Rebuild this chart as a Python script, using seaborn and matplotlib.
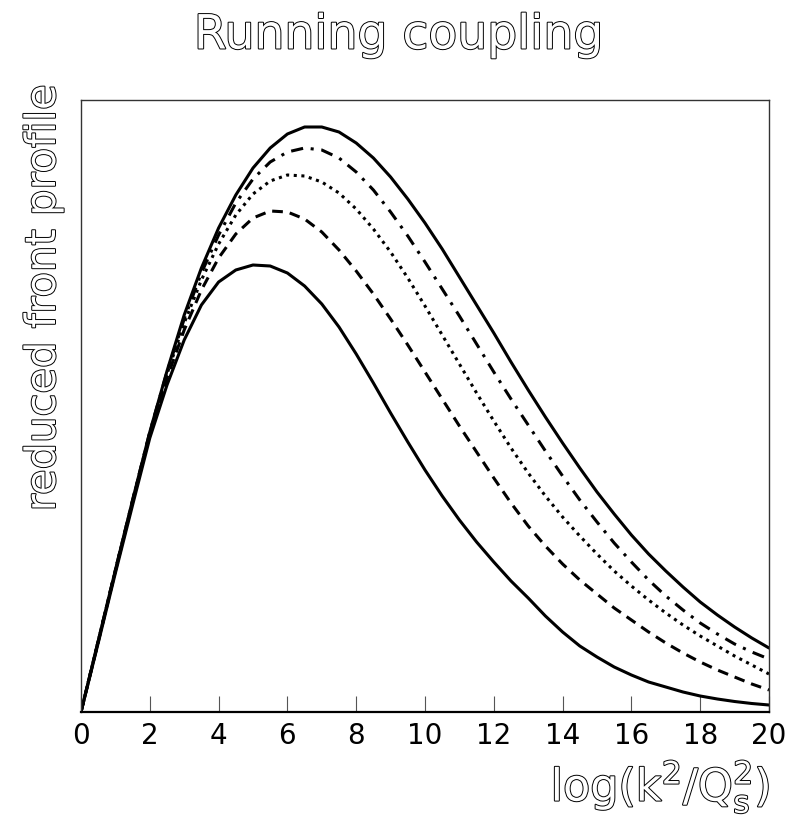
import numpy as np
import pandas as pd
import matplotlib
matplotlib.use("Agg")
import matplotlib.pyplot as plt
import matplotlib.patheffects as pe
import seaborn as sns

# log(k^2/Q_s^2) sample points
log_k = [0.0, 0.5, 1.0, 1.5, 2.0, 2.5, 3.0, 3.5, 4.0, 4.5, 5.0, 5.5, 6.0, 6.5, 7.0,
         7.5, 8.0, 8.5, 9.0, 9.5, 10.0, 10.5, 11.0, 11.5, 12.0, 12.5, 13.0, 13.5,
         14.0, 14.5, 15.0, 15.5, 16.0, 16.5, 17.0, 17.5, 18.0, 18.5, 19.0, 19.5, 20.0]

# reduced front profiles (arbitrary units), one list per curve
profile_upper = [0, 71, 142, 212, 280, 341, 397, 444, 484, 517, 544, 564, 578, 585, 585,
                 580, 569, 554, 535, 513, 489, 463, 435, 407, 379, 350, 322, 295,
                 269, 244, 220, 198, 177, 158, 141, 125, 110, 97, 85, 74, 64]
profile_dashdot = [0, 71, 142, 212, 280, 340, 393, 439, 477, 509, 533, 550, 560, 564, 562,
                   554, 540, 522, 500, 476, 450, 423, 396, 368, 340, 313, 287, 261,
                   236, 212, 190, 169, 150, 132, 116, 102, 89, 78, 68, 60, 53]
profile_dotted = [0, 71, 142, 211, 279, 338, 389, 432, 468, 497, 518, 531, 537, 536, 530,
                  519, 503, 483, 460, 434, 406, 377, 348, 319, 291, 264, 239, 216,
                  195, 176, 158, 141, 126, 112, 99, 87, 76, 66, 56, 47, 38]
profile_dashed = [0, 70, 141, 210, 277, 334, 382, 422, 454, 478, 494, 501, 500, 493, 480,
                  462, 441, 418, 393, 367, 340, 313, 286, 260, 234, 209, 186, 166,
                  148, 132, 118, 104, 92, 80, 69, 59, 50, 42, 35, 28, 22]
profile_lower = [0, 69, 139, 207, 274, 327, 372, 407, 430, 442, 447, 446, 439, 426, 408,
                 385, 358, 329, 299, 270, 242, 216, 192, 170, 150, 131, 114, 96,
                 80, 66, 55, 45, 37, 30, 25, 20, 16, 13, 10.5, 8.5, 7]

x_ticks = [0, 2, 4, 6, 8, 10, 12, 14, 16, 18, 20]

series = {
    "upper": profile_upper,
    "dashdot": profile_dashdot,
    "dotted": profile_dotted,
    "dashed": profile_dashed,
    "lower": profile_lower,
}
df = pd.concat(
    [pd.DataFrame({"x": log_k, "y": vals, "curve": name}) for name, vals in series.items()],
    ignore_index=True,
)

sns.set_theme(style="white")
plt.rcParams["font.family"] = ["DejaVu Sans"]
plt.rcParams["mathtext.default"] = "regular"

fig = plt.figure(figsize=(7.97, 8.18), dpi=100)
ax = fig.add_axes([81 / 797, 1 - 712 / 818, (769 - 81) / 797, (712 - 100) / 818])

dash_styles = {
    "upper": "",
    "dashdot": (4, 2.5, 1, 2.5),
    "dotted": (1, 1.5),
    "dashed": (3.5, 2.3),
    "lower": "",
}
sns.lineplot(data=df, x="x", y="y", style="curve", dashes=dash_styles,
             color="black", linewidth=2.2, estimator=None, legend=False, ax=ax,
             solid_joinstyle="round")

ax.set_xlim(0, 20)
ax.set_ylim(0, 612)
ax.set_xticks(x_ticks)
ax.set_xticklabels([str(t) for t in x_ticks])
ax.set_yticks([])
ax.set_xlabel("")
ax.set_ylabel("")
ax.tick_params(axis="x", direction="in", length=11.5, width=0.8, color="#555555",
               labelsize=20, labelcolor="black", pad=7, bottom=True)
for side, spine in ax.spines.items():
    spine.set_visible(True)
    spine.set_color("#333333")
    spine.set_linewidth(1.0)
ax.spines["bottom"].set_linewidth(1.6)
ax.spines["bottom"].set_color("black")

outline = [pe.withStroke(linewidth=1.4, foreground="black")]
fig.text(0.5, 1 - 36 / 818, "Running coupling", ha="center", va="center",
         fontsize=34, color="white", path_effects=outline)
fig.text(43 / 797, 1 - 298 / 818, "reduced front profile", ha="center", va="center",
         rotation=90, fontsize=30, color="white", path_effects=outline)
fig.text(770 / 797, 1 - 787 / 818, r"$log(k^2/Q^2_s)$", ha="right", va="center",
         fontsize=32, color="white", path_effects=outline)

fig.savefig("out.png", dpi=100)
